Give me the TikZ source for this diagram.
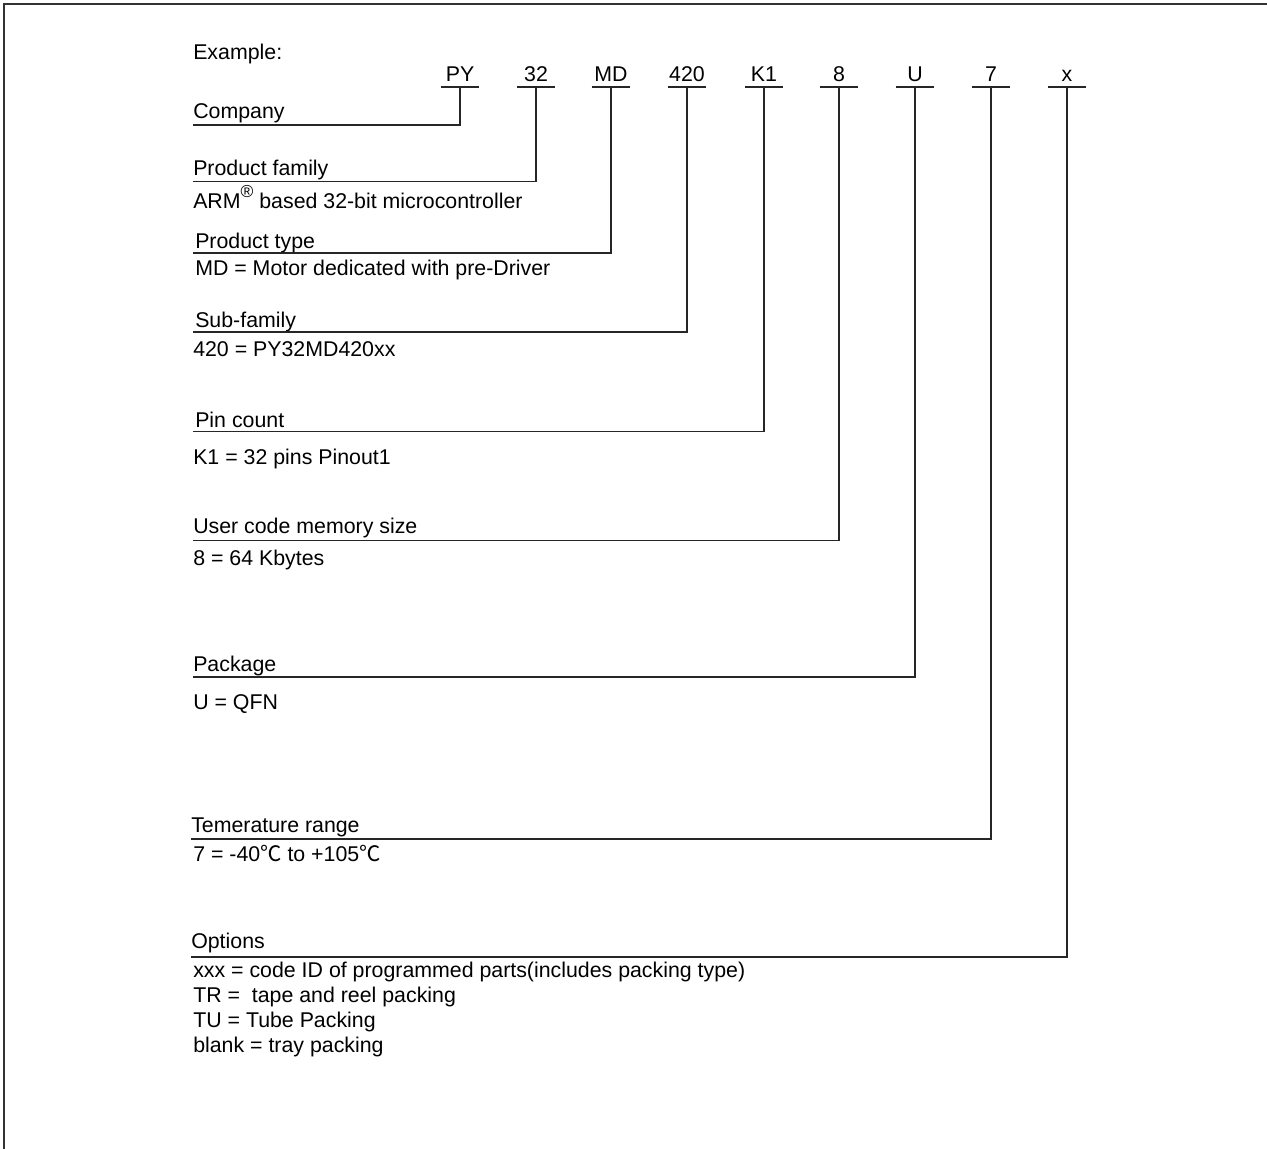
\documentclass[tikz,border=0pt]{standalone}
\usepackage{fontspec}
\setmainfont{Liberation Sans}
\newfontfamily\cjkfont{Noto Sans CJK SC}
\newcommand{\degC}{{\cjkfont ℃}}
\begin{document}
\begin{tikzpicture}[x=0.75pt,y=-0.75pt,
  every node/.style={inner sep=0pt,font=\fontsize{16}{19}\selectfont},
  txt/.style={anchor=base west},
  code/.style={anchor=south,minimum width=28.5pt,inner xsep=0pt,inner ysep=3.9pt,text depth=0pt},
  ln/.style={line width=0.8pt,black!85},
  frame/.style={line width=1.1pt,black!80}]
\useasboundingbox (0,0) rectangle (1267,1149);
% frame
\coordinate (fbl) at (4,1149);
\coordinate (ftl) at (4,4);
\coordinate (ftr) at (1267,4);
\draw[frame] (fbl) -- (ftl) -- (ftr);
% codes
\node[code] (cPY)  at (460,87)  {PY};
\node[code] (c32)  at (536,87)  {32};
\node[code] (cMD)  at (611,87)  {MD};
\node[code] (c420) at (687,87)  {420};
\node[code] (cK1)  at (764,87)  {K1};
\node[code] (c8)   at (839,87)  {8};
\node[code] (cU)   at (915,87)  {U};
\node[code] (c7)   at (991,87)  {7};
\node[code] (cx)   at (1067,87) {x};
\foreach \c in {cPY,c32,cMD,c420,cK1,c8,cU,c7,cx}
  \draw[ln] (\c.south west) -- (\c.south east);
% texts
\node[txt] (ex)   at (193,60)  {Example:};
\node[txt] (comp) at (193,118) {Company};
\node[txt] (pf)   at (193,175) {Product family};
\node[txt] (arm)  at (193,208) {ARM\raisebox{0.5em}{\fontsize{13}{13}\selectfont ®} based 32-bit microcontroller};
\node[txt] (pt)   at (195,248) {Product type};
\node[txt] (md)   at (195,275) {MD = Motor dedicated with pre-Driver};
\node[txt] (sf)   at (195,327) {Sub-family};
\node[txt] (sfv)  at (193,356) {420 = PY32MD420xx};
\node[txt] (pc)   at (195,427) {Pin count};
\node[txt] (pcv)  at (193,464) {K1 = 32 pins Pinout1};
\node[txt] (uc)   at (193,533) {User code memory size};
\node[txt] (ucv)  at (193,565) {8 = 64 Kbytes};
\node[txt] (pk)   at (193,671) {Package};
\node[txt] (pkv)  at (193,709) {U = QFN};
\node[txt] (tr)   at (191,832) {Temerature range};
\node[txt] (trv)  at (193,861) {7 = -40\degC\ to +105\degC};
\node[txt] (op)   at (191,948) {Options};
\node[txt] (op1)  at (193,977) {xxx = code ID of programmed parts(includes packing type)};
\node[txt] (op2)  at (193,1002) {TR =\ \ tape and reel packing};
\node[txt] (op3)  at (193,1027) {TU = Tube Packing};
\node[txt] (op4)  at (193,1052) {blank = tray packing};
% line ends
\coordinate (lPY)  at (193,125);
\coordinate (l32)  at (193,181.5);
\coordinate (lMD)  at (193,253);
\coordinate (l420) at (193,332);
\coordinate (lK1)  at (193,431.5);
\coordinate (l8)   at (193,540.5);
\coordinate (lU)   at (193,677);
\coordinate (l7)   at (191,839);
\coordinate (lx)   at (191,957);
% connectors
\draw[ln] (cPY.south)  |- (lPY);
\draw[ln] (c32.south)  |- (l32);
\draw[ln] (cMD.south)  |- (lMD);
\draw[ln] (c420.south) |- (l420);
\draw[ln] (cK1.south)  |- (lK1);
\draw[ln] (c8.south)   |- (l8);
\draw[ln] (cU.south)   |- (lU);
\draw[ln] (c7.south)   |- (l7);
\draw[ln] (cx.south)   |- (lx);
\end{tikzpicture}
\end{document}
